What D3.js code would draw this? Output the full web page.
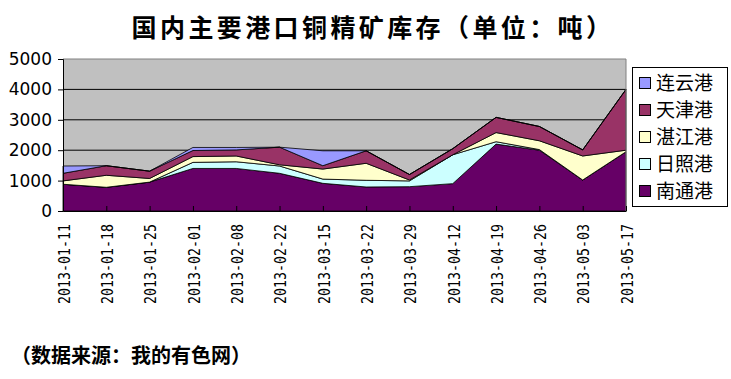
<!DOCTYPE html>
<html>
<head>
<meta charset="utf-8">
<script src="https://cdn.jsdelivr.net/npm/d3@7"></script>
<style>
body { margin: 0; background: #fff; }
svg { display: block; }
</style>
</head>
<body>
<script>
var dates = ["2013-01-11","2013-01-18","2013-01-25","2013-02-01","2013-02-08","2013-02-22","2013-03-15",
             "2013-03-22","2013-03-29","2013-04-12","2013-04-19","2013-04-26","2013-05-03","2013-05-17"];
var nantong   = [880, 780, 950, 1400, 1400, 1240, 910, 790, 800, 900, 2200, 2000, 1020, 1950];
var rizhao    = [0, 0, 0, 200, 220, 240, 140, 220, 190, 950, 80, 20, 0, 0];
var zhanjiang = [110, 395, 120, 190, 190, 40, 330, 560, 30, 0, 300, 290, 790, 50];
var tianjin   = [250, 315, 240, 200, 200, 580, 110, 410, 180, 200, 500, 470, 200, 2000];
var lianyun   = [240, 0, 0, 100, 80, 0, 490, 0, 0, 0, 0, 0, 0, 0];
var yTicks = [0, 1000, 2000, 3000, 4000, 5000];

// stacking order bottom -> top
var series = [
    {name: "南通港", values: nantong,   color: "#660066"},
    {name: "日照港", values: rizhao,    color: "#CCFFFF"},
    {name: "湛江港", values: zhanjiang, color: "#FFFFCC"},
    {name: "天津港", values: tianjin,   color: "#993366"},
    {name: "连云港", values: lianyun,   color: "#9999FF"}
];

var width = 731, height = 379;
var plot = {left: 63, right: 626, top: 59, bottom: 211};

var rows = dates.map(function(d, i) {
    var r = {date: d};
    series.forEach(function(s) { r[s.name] = s.values[i]; });
    return r;
});

var stack = d3.stack().keys(series.map(function(s) { return s.name; }));
var layers = stack(rows);

var x = d3.scalePoint().domain(dates).range([plot.left, plot.right]);
var y = d3.scaleLinear().domain([0, 5000]).range([plot.bottom, plot.top]);

var svg = d3.select("body").append("svg")
    .attr("width", width)
    .attr("height", height);

// title
svg.append("text")
    .attr("x", 373).attr("y", 37)
    .attr("text-anchor", "middle")
    .style("font-family", "'Noto Sans CJK SC'")
    .style("font-weight", "bold")
    .style("font-size", "25px")
    .style("letter-spacing", "3.4px")
    .text("国内主要港口铜精矿库存（单位：吨）");

// plot background
svg.append("rect")
    .attr("x", plot.left).attr("y", plot.top)
    .attr("width", plot.right - plot.left)
    .attr("height", plot.bottom - plot.top)
    .attr("fill", "#C0C0C0");

svg.append("g")
    .selectAll("line")
    .data(yTicks.slice(1, -1))
    .enter().append("line")
    .attr("x1", plot.left).attr("x2", plot.right)
    .attr("y1", function(d) { return y(d); })
    .attr("y2", function(d) { return y(d); })
    .attr("stroke", "#000")
    .attr("stroke-width", 1);

var area = d3.area()
    .x(function(d) { return x(d.data.date); })
    .y0(function(d) { return y(d[0]); })
    .y1(function(d) { return y(d[1]); });

svg.append("g")
    .selectAll("path")
    .data(layers)
    .enter().append("path")
    .attr("d", area)
    .attr("fill", function(d, i) { return series[i].color; })
    .attr("stroke", "#000")
    .attr("stroke-width", 0.8)
    .attr("stroke-linejoin", "round");

// plot border (grey top / right)
svg.append("path")
    .attr("d", "M" + plot.left + "," + plot.top + "H" + plot.right + "V" + plot.bottom)
    .attr("fill", "none")
    .attr("stroke", "#808080")
    .attr("stroke-width", 1);

// y axis
var yAxis = svg.append("g")
    .attr("transform", "translate(" + plot.left + ",0)")
    .call(d3.axisLeft(y).tickValues(yTicks).tickSize(5).tickPadding(6).tickFormat(d3.format("d")));
yAxis.select(".domain").attr("stroke", "#000");
yAxis.selectAll("text")
    .style("font-family", "'DejaVu Sans'")
    .style("font-size", "17px")
    .attr("fill", "#000");

// x axis, ticks pointing up into the plot
var xAxis = svg.append("g")
    .attr("transform", "translate(0," + plot.bottom + ")")
    .call(d3.axisBottom(x).tickSizeInner(-5).tickSizeOuter(0).tickFormat(""));
xAxis.select(".domain").attr("stroke", "#000");

svg.append("g")
    .selectAll("text")
    .data(dates)
    .enter().append("text")
    .attr("transform", function(d) { return "translate(" + (x(d) + 1) + ",224) rotate(-90)"; })
    .attr("text-anchor", "end")
    .attr("dy", "0.36em")
    .attr("textLength", 80)
    .attr("lengthAdjust", "spacingAndGlyphs")
    .style("font-family", "'DejaVu Sans Mono'")
    .style("font-size", "16px")
    .text(function(d) { return d; });

// legend
var legend = svg.append("g");
legend.append("rect")
    .attr("x", 632.5).attr("y", 67.5)
    .attr("width", 95).attr("height", 139)
    .attr("fill", "#fff")
    .attr("stroke", "#000");

var legendItems = series.slice().reverse();
var item = legend.selectAll("g.item")
    .data(legendItems)
    .enter().append("g")
    .attr("class", "item")
    .attr("transform", function(d, i) { return "translate(0," + (83 + i * 27) + ")"; });

item.append("rect")
    .attr("x", 639.5).attr("y", -5.5)
    .attr("width", 11).attr("height", 11)
    .attr("fill", function(d) { return d.color; })
    .attr("stroke", "#000");

item.append("text")
    .attr("x", 656).attr("dy", "0.36em")
    .style("font-family", "'Noto Sans CJK SC'")
    .style("font-size", "19px")
    .text(function(d) { return d.name; });

// source note
svg.append("text")
    .attr("x", 11).attr("y", 363)
    .style("font-family", "'Noto Sans CJK SC'")
    .style("font-weight", "bold")
    .style("font-size", "20px")
    .text("（数据来源：我的有色网）");
</script>
</body>
</html>
